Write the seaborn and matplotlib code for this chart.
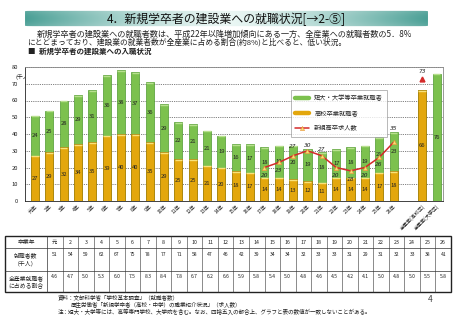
import numpy as np
import pandas as pd
import matplotlib
matplotlib.use("Agg")
import matplotlib.pyplot as plt
import seaborn as sns
from matplotlib.patches import FancyBboxPatch, Rectangle
from matplotlib.lines import Line2D

# ---------------- data ----------------
years = ['元年', '2年', '3年', '4年', '5年', '6年', '7年', '8年', '9年', '10年',
         '11年', '12年', '13年', '14年', '15年', '16年', '17年', '18年', '19年', '20年',
         '21年', '22年', '23年', '24年', '25年', '26年']
all_industry_labels = ['全産業(高校卒)', '全産業(大学卒)']
high_school = [27, 29, 32, 34, 35, 39, 40, 40, 35, 29, 25, 25, 21, 20, 18, 17, 14, 14,
               13, 12, 11, 14, 14, 14, 17, 18]
university = [24, 25, 28, 29, 31, 36, 38, 37, 36, 29, 22, 21, 21, 19, 16, 17, 18, 19,
              20, 19, 18, 17, 18, 19, 21, 23]
all_high = 66
all_univ = 76
all_high_offers = 73
offer_years = ['17年', '18年', '19年', '20年', '21年', '22年', '23年', '24年', '25年', '26年']
offers = [20, 23, 27, 30, 27, 20, 18, 20, 26, 35]

table_years = ['元', '2', '3', '4', '5', '6', '7', '8', '9', '10', '11', '12', '13',
               '14', '15', '16', '17', '18', '19', '20', '21', '22', '23', '24', '25', '26']
employed = [51, 54, 59, 62, 67, 75, 78, 77, 71, 58, 47, 46, 42, 39, 34, 34, 32, 33, 33,
            31, 29, 31, 32, 33, 38, 41]
share = [4.6, 4.7, 5.0, 5.3, 6.0, 7.5, 8.3, 8.4, 7.8, 6.7, 6.2, 6.6, 5.9, 5.8, 5.4, 5.0,
         4.8, 4.6, 4.5, 4.2, 4.1, 5.0, 4.8, 5.0, 5.5, 5.8]
yticks = [0, 10, 20, 30, 40, 50, 60, 70, 80]

# ---------------- style ----------------
sns.set_theme(style="white")
plt.rcParams['font.family'] = ['Noto Sans CJK JP', 'DejaVu Sans']

GREEN = '#7CC14E'
GREEN_E = '#4E9A2E'
ORANGE = '#E3A70D'
ORANGE_E = '#B07C05'
RED = '#D42A2A'
TXT = '#222222'

fig = plt.figure(figsize=(4.53, 3.21), dpi=100)
fig.patch.set_facecolor('white')

# overlay axes in pixel coordinates for page decorations
ov = fig.add_axes([0, 0, 1, 1])
ov.set_xlim(0, 453)
ov.set_ylim(321, 0)
ov.axis('off')
ov.patch.set_alpha(0)

# ---- title banner with gradient ----
bx0, by0, bw, bh = 23, 10, 407, 17
bax = fig.add_axes([bx0 / 453, 1 - (by0 + bh) / 321, bw / 453, bh / 321])
bax.axis('off')
xg = np.linspace(-1, 1, 300)
hgrad = np.abs(xg) ** 1.3
c_edge = np.array([0.28, 0.62, 0.58])
c_mid = np.array([0.92, 0.97, 0.96])
yv = np.linspace(0, 1, 40)[:, None]
vshade = 0.85 + 0.15 * np.sin(np.pi * yv)
img = (c_mid[None, None, :] * (1 - hgrad[None, :, None]) + c_edge[None, None, :] * hgrad[None, :, None])
img = img * vshade[:, :, None] + (1 - vshade[:, :, None]) * 0.95
img = np.clip(img, 0, 1)
im = bax.imshow(img, extent=[0, 1, 0, 1], aspect='auto', transform=bax.transAxes)
clip = FancyBboxPatch((0.005, 0.05), 0.99, 0.9, boxstyle='round,pad=0,rounding_size=0.02',
                      transform=bax.transAxes, facecolor='none', edgecolor='none')
bax.add_patch(clip)
im.set_clip_path(clip)
bax.text(0.5, 0.47, '4．新規学卒者の建設業への就職状況[→2-⑤]', ha='center', va='center',
         fontsize=8.6, color='#111111', transform=bax.transAxes)

# ---- body text ----
ov.text(37, 34.5, '新規学卒者の建設業への就職者数は、平成22年以降増加傾向にある一方、全産業への就職者数の5．8%',
        fontsize=5.9, va='center', ha='left', color=TXT)
ov.text(27, 42.5, 'にとどまっており、建設業の就業者数が全産業に占める割合(約8%)と比べると、低い状況。',
        fontsize=5.6, va='center', ha='left', color=TXT)
ov.text(28, 51.5, '■  新規学卒者の建設業への入職状況', fontsize=5.4, va='center', ha='left',
        color=TXT, fontweight='bold')

# ---------------- main chart ----------------
ax = fig.add_axes([25 / 453, 1 - 201 / 321, 418 / 453, 134 / 321])
cats = years + [''] + all_industry_labels
hs = high_school + [np.nan, all_high, 0]
un = university + [np.nan, 0, all_univ]
df = pd.DataFrame({'cat': cats, 'high': hs, 'univ': un})
df['total'] = df['high'] + df['univ']

sns.barplot(data=df, x='cat', y='total', order=cats, color=GREEN, width=0.56,
            edgecolor=GREEN_E, linewidth=0.5, saturation=1, ax=ax, zorder=3)
sns.barplot(data=df, x='cat', y='high', order=cats, color=ORANGE, width=0.56,
            edgecolor=ORANGE_E, linewidth=0.5, saturation=1, ax=ax, zorder=4)

# light caps on top of each segment
for i, (h, u) in enumerate(zip(hs, un)):
    if np.isnan(h):
        continue
    if h > 0:
        ax.plot([i - 0.26, i + 0.26], [h - 0.4, h - 0.4], color='#F8E27A', lw=1.0, zorder=5,
                solid_capstyle='butt')
    if u > 0:
        ax.plot([i - 0.26, i + 0.26], [h + u - 0.4, h + u - 0.4], color='#B8E08E', lw=1.0,
                zorder=5, solid_capstyle='butt')

# segment labels
for i, (h, u) in enumerate(zip(hs, un)):
    if np.isnan(h):
        continue
    if h > 0:
        ax.text(i, h / 2, f'{int(h)}', ha='center', va='center', fontsize=4.2, color=TXT, zorder=6)
    if u > 0:
        ax.text(i, h + u / 2, f'{int(u)}', ha='center', va='center', fontsize=4.2, color=TXT, zorder=6)

# offers line
offer_x = [cats.index(y) for y in offer_years]
sns.lineplot(x=offer_x, y=offers, color=RED, lw=1.1, ax=ax, zorder=7, marker='^',
             markersize=3.2, markerfacecolor='#F7DC78', markeredgecolor='#E89030',
             markeredgewidth=0.4)
label_dy = [-5, -5, 5.5, 3, 4, -5, -5, -5, -4, 8]
for x, v, dy in zip(offer_x, offers, label_dy):
    ax.text(x, v + dy, f'{v}', ha='center', va='center', fontsize=4.2, color=TXT,
            style='italic', family='DejaVu Sans', zorder=8)
hx = cats.index(all_industry_labels[0])
ax.plot([hx], [all_high_offers], marker='^', color=RED, markersize=3.5, zorder=8)
ax.text(hx, all_high_offers + 4.5, f'{all_high_offers}', ha='center', va='center',
        fontsize=4.2, color=TXT, style='italic', family='DejaVu Sans', zorder=8)

ax.set_xlim(-0.7, 28.45)
ax.set_ylim(0, 80)
ax.set_yticks(yticks)
ax.set_yticklabels([str(t) for t in yticks], fontsize=4.2, color=TXT)
for t in yticks[1:]:
    ax.axhline(t, color='#555555', lw=0.6, ls=(0, (1, 1.2)), zorder=1)
ax.set_xlabel('')
ax.set_ylabel('')
ax.tick_params(axis='y', length=0, pad=5)
ax.tick_params(axis='x', length=0, pad=2)
ax.set_xticks(range(len(cats)))
ax.set_xticklabels(cats, rotation=45, ha='right', rotation_mode='anchor', fontsize=3.6,
                   color=TXT)
for s in ax.spines.values():
    s.set_color('#888888')
    s.set_linewidth(0.6)
ax.spines['left'].set_color('#222222')
ax.spines['bottom'].set_color('#222222')
ov.text(15, 77, '(千人)', fontsize=4.2, ha='left', va='center', color=TXT)

# legend
handles = [Line2D([], [], color=GREEN, lw=3.2),
           Line2D([], [], color=ORANGE, lw=3.2),
           Line2D([], [], color=RED, lw=1.1, marker='^', markersize=3,
                  markerfacecolor='#F7DC78', markeredgecolor='#E89030', markeredgewidth=0.4)]
leg = ax.legend(handles, ['短大・大学等卒業就職者', '高校卒業就職者', '新規高卒求人数'],
                loc='upper left', bbox_to_anchor=(0.629, 0.855), fontsize=4.5,
                frameon=True, fancybox=False, edgecolor='#999999', handlelength=2.2,
                labelspacing=1.15, borderpad=0.7, handletextpad=0.8)
leg.get_frame().set_linewidth(0.6)
leg.set_zorder(10)

# ---------------- table ----------------
tx0, tx1, txc = 5, 451, 47
ty = [236, 248, 271, 292]
cw = (tx1 - txc) / len(table_years)
ov.add_patch(Rectangle((tx0, ty[0]), tx1 - tx0, ty[3] - ty[0], fill=False,
                       edgecolor='#222222', lw=1.0))
for yy in ty[1:3]:
    ov.plot([tx0, tx1], [yy, yy], color='#333333', lw=0.5)
ov.plot([txc, txc], [ty[0], ty[3]], color='#333333', lw=0.5)
for k in range(1, len(table_years)):
    xx = txc + k * cw
    ov.plot([xx, xx], [ty[0], ty[3]], color='#333333', lw=0.4)
ov.text((tx0 + txc) / 2, (ty[0] + ty[1]) / 2, '卒業年', fontsize=4.2, ha='center', va='center', color=TXT)
ov.text((tx0 + txc) / 2, (ty[1] + ty[2]) / 2, '就職者数\n（千人）', fontsize=4.2, ha='center',
        va='center', color=TXT, linespacing=1.7)
ov.text((tx0 + txc) / 2, (ty[2] + ty[3]) / 2, '全産業就職者\nに占める割合', fontsize=4.2,
        ha='center', va='center', color=TXT, linespacing=1.3)
for k, (yl, e, s) in enumerate(zip(table_years, employed, share)):
    xc = txc + (k + 0.5) * cw
    ov.text(xc, (ty[0] + ty[1]) / 2, yl, fontsize=3.8, ha='center', va='center', color=TXT,
            style='italic')
    ov.text(xc, ty[1] + 7, f'{e}', fontsize=3.6, ha='center', va='center', color=TXT)
    ov.text(xc, ty[2] + 6, f'{s:.1f}', fontsize=3.6, ha='center', va='center', color=TXT)

# ---------------- sources ----------------
ov.text(58, 297, '資料：文部科学省「学校基本調査」（就職者数）', fontsize=4.0, ha='left', va='center', color=TXT)
ov.text(71, 304.5, '厚生労働省「新規学卒者（高校・中学）の職業紹介状況」（求人数）', fontsize=4.0,
        ha='left', va='center', color=TXT)
ov.text(58, 312, '注：短大・大学等には、高等専門学校、大学院を含む。なお、四捨五入の都合上、グラフと表の数値が一致しないことがある。',
        fontsize=4.0, ha='left', va='center', color=TXT)
ov.text(430, 299, '4', fontsize=6, ha='center', va='center', color='#444444')

fig.savefig('out.png', dpi=100, facecolor='white')
